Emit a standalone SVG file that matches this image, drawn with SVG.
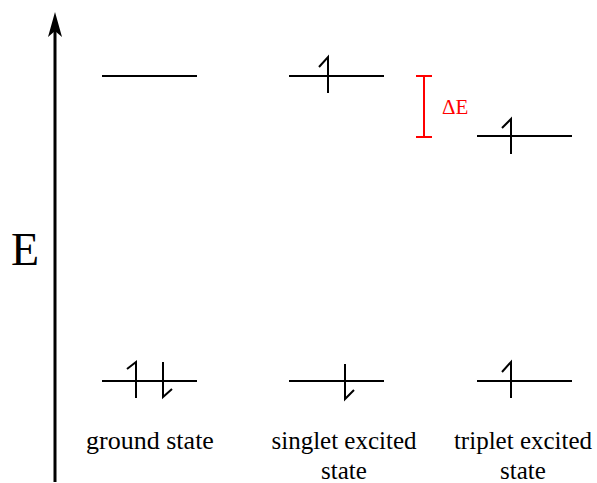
<svg xmlns="http://www.w3.org/2000/svg" width="597" height="483" viewBox="0 0 597 483">
<style>
.lvl{stroke:#000;stroke-width:2;fill:none}
.el{stroke:#000;stroke-width:2;fill:none;stroke-linecap:butt}
.lbl{font-family:"Liberation Serif","Times New Roman",serif;font-size:25px;fill:#000;text-anchor:middle}
</style>
<rect width="597" height="483" fill="#fff"/>
<g id="axis">
<line x1="55" y1="482" x2="55" y2="28" stroke="#000" stroke-width="3"/>
<path d="M55,12 L62,37 L55,31 L48,37 Z" fill="#000"/>
<text x="11" y="265" font-family="'Liberation Serif',serif" font-size="46">E</text>
</g>
<g id="ground">
<line class="lvl" x1="102" y1="76" x2="197" y2="76"/>
<line class="lvl" x1="102" y1="381" x2="197" y2="381"/>
<path class="el" d="M136,398 V362 L127,369"/>
<path class="el" d="M163,362 V397 L172,389"/>
<text class="lbl" x="150" y="449" style="font-size:26px">ground state</text>
</g>
<g id="singlet">
<line class="lvl" x1="289" y1="76" x2="384" y2="76"/>
<path class="el" d="M328,93 V57 L319,67"/>
<line class="lvl" x1="289" y1="381" x2="384" y2="381"/>
<path class="el" d="M345,364 V399 L354,390"/>
<text class="lbl" x="344" y="449">singlet excited</text>
<text class="lbl" x="344" y="479">state</text>
</g>
<g id="triplet">
<line class="lvl" x1="477" y1="136" x2="572" y2="136"/>
<path class="el" d="M511,154 V119 L502,128"/>
<line class="lvl" x1="477" y1="381" x2="572" y2="381"/>
<path class="el" d="M511,398 V362 L502,372"/>
<text class="lbl" x="523" y="449">triplet excited</text>
<text class="lbl" x="523" y="479">state</text>
</g>
<g id="deltaE">
<path d="M416,76 H432 M424,76 V137 M416,137 H432" stroke="#ff0000" stroke-width="2" fill="none"/>
<text x="442" y="114" font-family="'Liberation Serif',serif" font-size="21" fill="#ff0000">ΔE</text>
</g>
</svg>
